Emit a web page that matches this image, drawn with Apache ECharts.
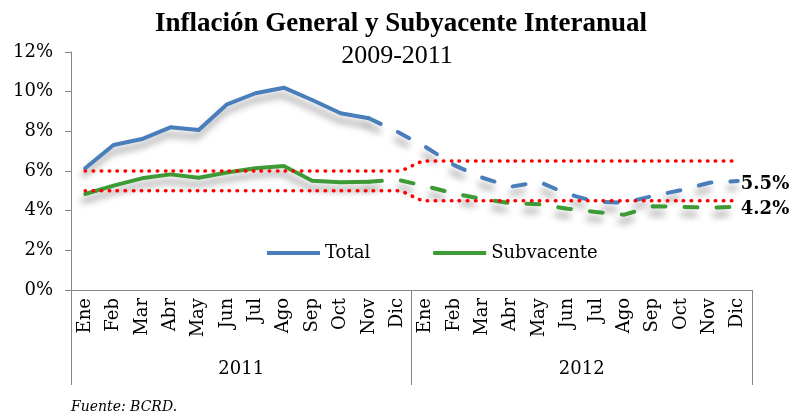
<!DOCTYPE html>
<html>
<head>
<meta charset="utf-8">
<title>Inflación General y Subyacente Interanual</title>
<script src="https://cdn.jsdelivr.net/npm/echarts@6/dist/echarts.min.js"></script>
<style>
  html, body { margin: 0; padding: 0; background: #fff; }
  #chart { width: 789px; height: 415px; }
</style>
</head>
<body>
<div id="chart"></div>
<script>
// datos (%)
var months = ["Ene", "Feb", "Mar", "Abr", "May", "Jun", "Jul", "Ago", "Sep", "Oct", "Nov", "Dic"];
var years = ["2011", "2012"];
var yTicks = [0, 2, 4, 6, 8, 10, 12];

// observado Ene-Nov 2011
var totalReal = [6.14, 7.31, 7.61, 8.2, 8.07, 9.36, 9.92, 10.2, 9.58, 8.91, 8.66];
var subReal = [4.84, 5.26, 5.63, 5.83, 5.66, 5.92, 6.14, 6.25, 5.51, 5.43, 5.46];

// proyeccion Nov 2011 - Dic 2012
var totalProy = [8.66, 7.98, 7.21, 6.3, 5.66, 5.21, 5.45, 4.84, 4.45, 4.4, 4.74, 5.04, 5.41, 5.5];
var subProy = [5.46, 5.56, 5.24, 4.87, 4.59, 4.37, 4.32, 4.1, 3.93, 3.8, 4.22, 4.19, 4.15, 4.2];

// rango meta por año
var metaSup = [6, 6.5];
var metaInf = [5, 4.5];

var serif = "DejaVu Serif";
var blue = "#4a7ebb";
var green = "#3d9b35";
var red = "#ff0000";
var gray = "#868686";

// categorias unicas mes|año
var cats = [];
years.forEach(function (y) {
  months.forEach(function (m) { cats.push(m + "|" + y); });
});

function pad(arr, start) {
  var out = [];
  for (var i = 0; i < cats.length; i++) {
    var v = arr[i - start];
    out.push(v === undefined ? "-" : v);
  }
  return out;
}

function band(vals) {
  var out = [];
  vals.forEach(function (v) {
    months.forEach(function () { out.push(v); });
  });
  return out;
}

var shadow = {
  shadowColor: "rgba(0,0,0,0.4)",
  shadowBlur: 7,
  shadowOffsetX: -2,
  shadowOffsetY: 7
};

function lineStyle(color, dashed) {
  return Object.assign({
    color: color,
    width: 4,
    type: dashed ? [13, 19] : "solid",
    cap: "round",
    join: "round"
  }, shadow);
}

var endLabel = {
  show: true,
  distance: 3,
  offset: [0, 3],
  formatter: function (p) { return p.value + "%"; },
  color: "#000",
  fontFamily: serif,
  fontWeight: "bold",
  fontSize: 18
};

var dotted = {
  color: red,
  width: 3.5,
  type: [0.5, 7.5],
  cap: "round"
};

var chart = echarts.init(document.getElementById("chart"));
chart.setOption({
  animation: false,
  backgroundColor: "#fff",
  grid: { left: 71, right: 37, top: 52, bottom: 125, containLabel: false },
  graphic: [
    {
      type: "text",
      x: 401, y: 24,
      style: {
        text: "Inflación General y Subyacente Interanual",
        textAlign: "center", textVerticalAlign: "middle",
        font: "bold 27px 'Liberation Serif'", fill: "#000"
      }
    },
    {
      type: "text",
      x: 397, y: 56,
      style: {
        text: "2009-2011",
        textAlign: "center", textVerticalAlign: "middle",
        font: "26px 'Liberation Serif'", fill: "#000"
      }
    },
    {
      type: "text",
      x: 71, y: 407,
      style: {
        text: "Fuente: BCRD.",
        textAlign: "left", textVerticalAlign: "middle",
        font: "italic 14px '" + serif + "'", fill: "#000"
      }
    }
  ],
  legend: {
    data: ["Total", "Subvacente"],
    left: 262,
    top: 239,
    icon: "rect",
    itemWidth: 53,
    itemHeight: 4,
    itemGap: 63,
    textStyle: { fontFamily: serif, fontSize: 18, color: "#000" }
  },
  xAxis: [
    {
      type: "category",
      data: cats,
      boundaryGap: true,
      axisLine: { lineStyle: { color: gray, width: 1 } },
      axisTick: { show: false },
      axisLabel: {
        interval: 0,
        rotate: 90,
        margin: 8,
        color: "#000",
        fontFamily: serif,
        fontSize: 18,
        formatter: function (v) { return v.split("|")[0]; }
      }
    },
    {
      // nivel de año debajo de los meses
      type: "category",
      data: years,
      position: "bottom",
      boundaryGap: true,
      axisLine: { show: false },
      axisTick: { show: true, length: 95, lineStyle: { color: gray, width: 1 } },
      axisLabel: { margin: 70, color: "#000", fontFamily: serif, fontSize: 18 }
    }
  ],
  yAxis: {
    type: "value",
    min: yTicks[0],
    max: yTicks[yTicks.length - 1],
    interval: yTicks[1] - yTicks[0],
    axisLine: { show: true, lineStyle: { color: gray, width: 1 } },
    axisTick: { show: true, length: 6, lineStyle: { color: gray } },
    splitLine: { show: false },
    axisLabel: {
      margin: 18,
      color: "#000",
      fontFamily: serif,
      fontSize: 18,
      formatter: "{value}%"
    }
  },
  series: [
    {
      name: "Total",
      type: "line",
      data: pad(totalReal, 0),
      symbol: "none",
      color: blue,
      lineStyle: lineStyle(blue, false),
      z: 3
    },
    {
      name: "Subvacente",
      type: "line",
      data: pad(subReal, 0),
      symbol: "none",
      color: green,
      lineStyle: lineStyle(green, false),
      z: 3
    },
    {
      name: "Total proyectado",
      type: "line",
      data: pad(totalProy, 10),
      symbol: "none",
      color: blue,
      lineStyle: lineStyle(blue, true),
      endLabel: endLabel,
      z: 3
    },
    {
      name: "Subvacente proyectado",
      type: "line",
      data: pad(subProy, 10),
      symbol: "none",
      color: green,
      lineStyle: lineStyle(green, true),
      endLabel: endLabel,
      z: 3
    },
    {
      name: "Meta superior",
      type: "line",
      data: band(metaSup),
      symbol: "none",
      smooth: 0.3,
      color: red,
      lineStyle: dotted,
      z: 4
    },
    {
      name: "Meta inferior",
      type: "line",
      data: band(metaInf),
      symbol: "none",
      smooth: 0.3,
      color: red,
      lineStyle: dotted,
      z: 4
    }
  ]
});
</script>
</body>
</html>
